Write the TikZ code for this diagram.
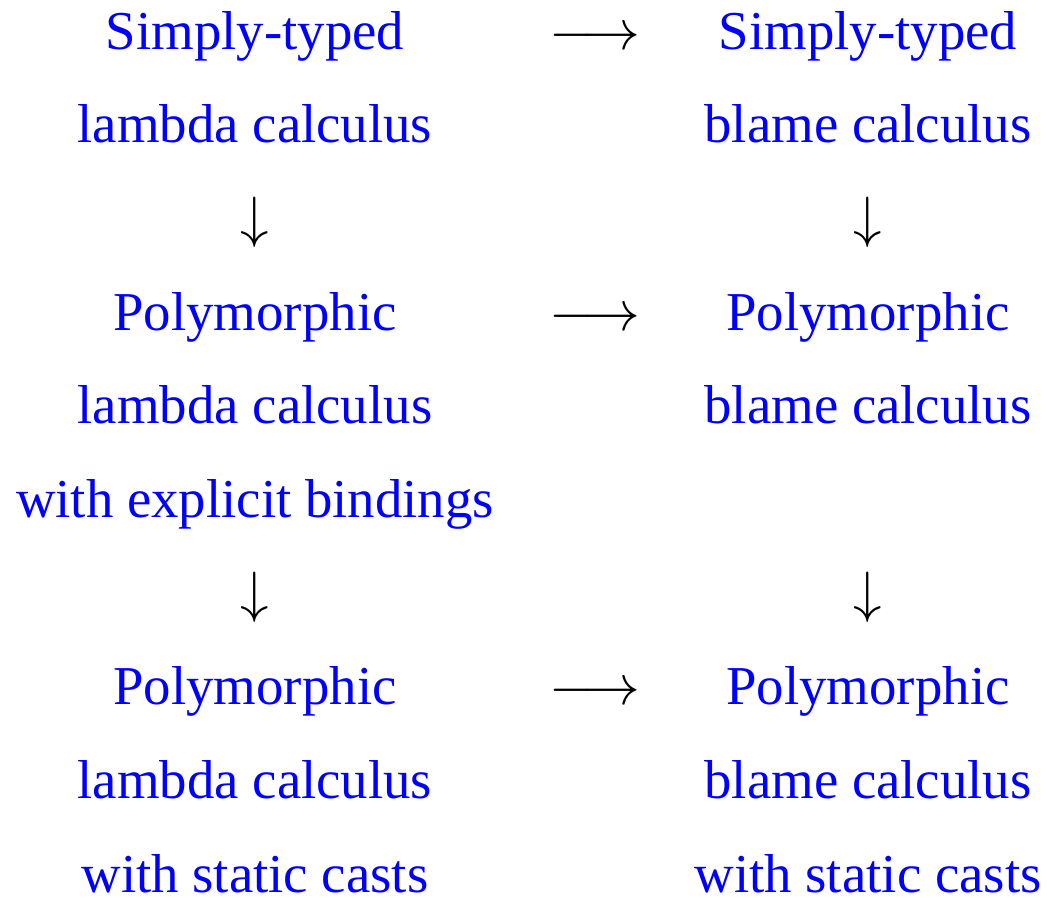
\documentclass[tikz,border=0pt]{standalone}
\usepackage{fontspec}
\setmainfont{Liberation Serif}
\usepackage{tikz}
\usetikzlibrary{positioning}
\usepackage{xcolor}
\tikzset{
  system/.style={font=\fontsize{20}{34.2}\selectfont, text=blue, align=center, anchor=base, inner sep=0pt},
  glyph/.style={font=\fontsize{20}{24}\selectfont, anchor=base, inner sep=0pt},
}

\begin{document}
\begin{tikzpicture}[x=0.365pt, y=-0.365pt]
\useasboundingbox (0,0) rectangle (1047,897);
% calculi (placed at the baseline of their last line)
\node[system] (stl) at (255,142.7) {Simply-typed\\lambda calculus};
\node[system] (stb) at (868,142.7) {Simply-typed\\blame calculus};
\node[system] (pol) at (255,517.5) {Polymorphic\\lambda calculus\\with explicit bindings};
\node[system] (pob) at (868,423.8) {Polymorphic\\blame calculus};
\node[system] (psl) at (255,892.3) {Polymorphic\\lambda calculus\\with static casts};
\node[system] (psb) at (868,892.3) {Polymorphic\\blame calculus\\with static casts};
% translations
\node[glyph] (t1) at (595,49) {$\longrightarrow$};
\node[glyph] (t2) at (595,330.1) {$\longrightarrow$};
\node[glyph] (t3) at (595,704.9) {$\longrightarrow$};
\node[glyph] (d1) at (255,236.4) {$\downarrow$};
\node[glyph] (d2) at (868,236.4) {$\downarrow$};
\node[glyph] (d3) at (255,611.2) {$\downarrow$};
\node[glyph] (d4) at (868,611.2) {$\downarrow$};
\end{tikzpicture}
\end{document}
